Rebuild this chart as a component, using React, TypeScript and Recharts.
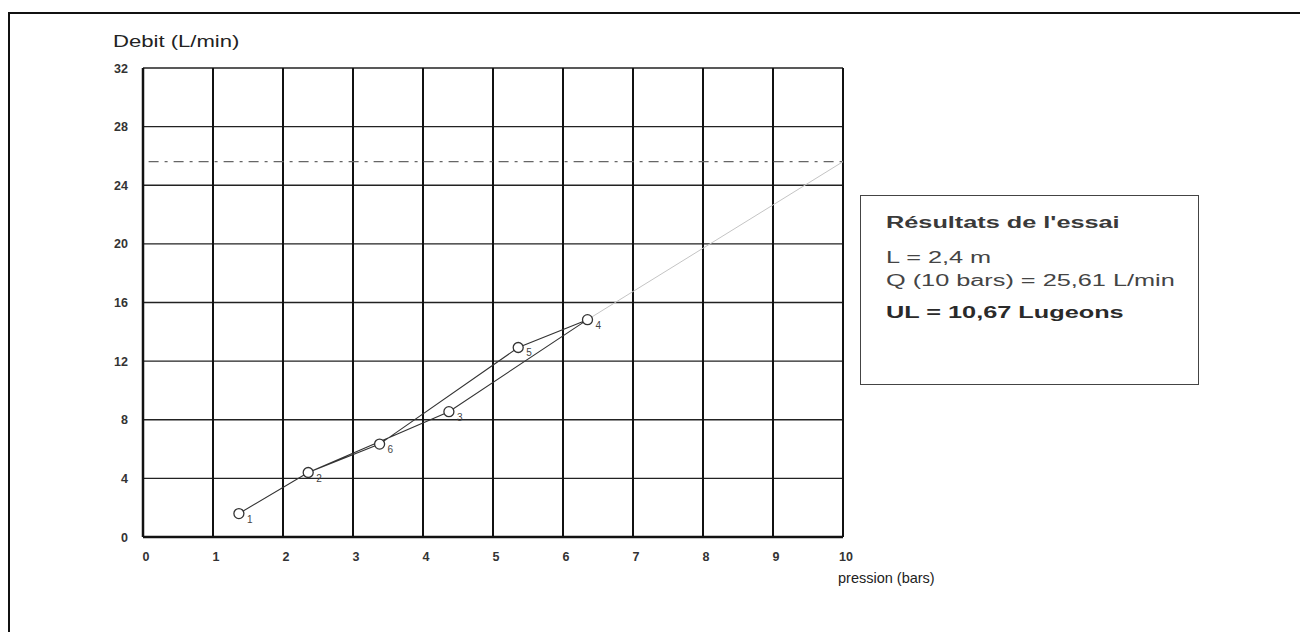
import React from 'react';
import { ComposedChart, Line, Scatter, XAxis, YAxis, CartesianGrid } from 'recharts';

// essai Lugeon : paliers dans l'ordre de l'essai
const stages = ['1', '2', '3', '4', '5', '6'];
const pressures = [1.37, 2.36, 4.37, 6.35, 5.36, 3.38]; // bars
const flows = [1.6, 4.4, 8.55, 14.83, 12.93, 6.34]; // L/min
const pathOrder = [0, 1, 2, 3, 4, 5, 1];

const xTicks = [0, 1, 2, 3, 4, 5, 6, 7, 8, 9, 10];
const yTicks = [0, 4, 8, 12, 16, 20, 24, 28, 32];

const q10 = 25.61;
const q10Start = 0.08;
const lastStage = 3;

const points = stages.map((n, i) => ({ x: pressures[i], y: flows[i], n }));
const path = pathOrder.map((i) => ({ x: pressures[i], y: flows[i] }));
const extrapolation = [
  { x: pressures[lastStage], y: flows[lastStage] },
  { x: 10, y: q10 },
];
const q10Line = [
  { x: q10Start, y: q10 },
  { x: 10, y: q10 },
];

const font = '"Liberation Sans", Arial, sans-serif';

const XTick = (props: any) => {
  const { x, y, payload } = props;
  return (
    <text x={x + 3} y={y} dy="0.71em" textAnchor="middle" fontFamily={font} fontSize={12.5} fontWeight="bold" fill="#333">
      {payload.value}
    </text>
  );
};

const YTick = (props: any) => {
  const { x, y, payload } = props;
  return (
    <text x={x} y={y} dy="0.36em" textAnchor="end" fontFamily={font} fontSize={12.5} fontWeight="bold" fill="#333">
      {payload.value}
    </text>
  );
};

const Marker = (props: any) => {
  const { cx, cy, payload } = props;
  return (
    <g>
      <circle cx={cx} cy={cy} r={5} fill="#fff" stroke="#333" strokeWidth={1.3} />
      <text x={cx + 8} y={cy + 9} fontFamily={font} fontSize={10} fill="#444">
        {payload.n}
      </text>
    </g>
  );
};

const boxLine: React.CSSProperties = {
  position: 'absolute',
  left: 25,
  whiteSpace: 'nowrap',
  transform: 'scaleX(1.58)',
  transformOrigin: 'left center',
  fontSize: 16,
};

export default function App() {
  return (
    <div style={{ position: 'relative', width: 1300, height: 624, overflow: 'hidden', fontFamily: font }}>
      <div
        style={{
          position: 'absolute',
          left: 0,
          top: 4,
          width: 1400,
          height: 700,
          borderTop: '2px solid #111',
          borderLeft: '2px solid #111',
        }}
      />
      <div style={{ position: 'absolute', left: 105, top: 25, fontSize: 16, color: '#222', transform: 'scaleX(1.38)', transformOrigin: 'left center' }}>
        Debit (L/min)
      </div>
      <div style={{ position: 'absolute', left: 830, top: 562, fontSize: 14.5, color: '#222' }}>pression (bars)</div>

      <div style={{ position: 'absolute', left: 0, top: 0 }}>
        <ComposedChart width={900} height={600} margin={{ top: 60, right: 65, bottom: 41, left: 0 }}>
          <CartesianGrid vertical={false} stroke="#222" strokeWidth={1.3} />
          <CartesianGrid horizontal={false} stroke="#111" strokeWidth={2} />
          <XAxis
            type="number"
            dataKey="x"
            domain={[0, 10]}
            ticks={xTicks}
            interval={0}
            height={30}
            tickLine={false}
            tickSize={0}
            tickMargin={15}
            tick={<XTick />}
            axisLine={{ stroke: '#111', strokeWidth: 2.5 }}
          />
          <YAxis
            type="number"
            dataKey="y"
            domain={[0, 32]}
            ticks={yTicks}
            interval={0}
            width={135}
            tickLine={false}
            tickSize={0}
            tickMargin={15}
            tick={<YTick />}
            axisLine={{ stroke: '#111', strokeWidth: 2.5 }}
          />
          <Line
            data={q10Line}
            dataKey="y"
            type="linear"
            stroke="#666"
            strokeWidth={1.4}
            strokeDasharray="10 6 3 6"
            dot={false}
            isAnimationActive={false}
          />
          <Line
            data={extrapolation}
            dataKey="y"
            type="linear"
            stroke="#c4c4c4"
            strokeWidth={1}
            dot={false}
            isAnimationActive={false}
          />
          <Line
            data={path}
            dataKey="y"
            type="linear"
            stroke="#333"
            strokeWidth={1.1}
            dot={false}
            isAnimationActive={false}
          />
          <Scatter data={points} dataKey="y" shape={<Marker />} isAnimationActive={false} />
        </ComposedChart>
      </div>

      <div
        style={{
          position: 'absolute',
          left: 852,
          top: 187,
          width: 337,
          height: 188,
          border: '1.5px solid #444',
          color: '#333',
        }}
      >
        <div style={{ ...boxLine, top: 18, fontWeight: 600, color: '#3a3a3a' }}>Résultats de l'essai</div>
        <div style={{ ...boxLine, top: 53, color: '#444' }}>L = 2,4 m</div>
        <div style={{ ...boxLine, top: 76, color: '#444' }}>Q (10 bars) = 25,61 L/min</div>
        <div style={{ ...boxLine, top: 108, fontWeight: 'bold', color: '#2a2a2a' }}>UL = 10,67 Lugeons</div>
      </div>
    </div>
  );
}
